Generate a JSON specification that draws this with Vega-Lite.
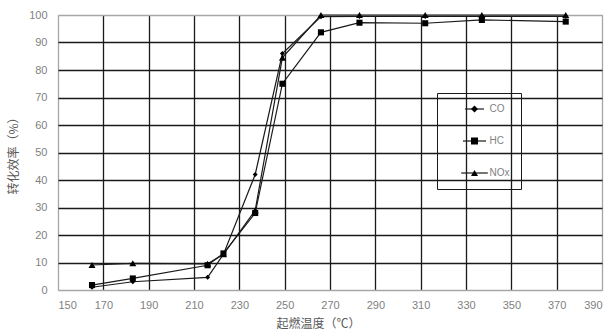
{
  "$schema": "https://vega.github.io/schema/vega-lite/v6.json",
  "width": 544,
  "height": 275,
  "autosize": "none",
  "padding": {"left": 58, "top": 15, "right": 10, "bottom": 46},
  "background": "white",
  "config": {
    "view": {"stroke": "#a6a6a6", "strokeWidth": 1},
    "font": "Liberation Sans",
    "axis": {
      "domain": false,
      "ticks": false,
      "labelColor": "#7f7f7f",
      "labelFontSize": 11,
      "labelFont": "Liberation Sans",
      "titleColor": "#595959",
      "titleFont": "Noto Sans CJK SC",
      "titleFontSize": 12,
      "titleFontWeight": "normal",
      "gridWidth": 1.3
    }
  },
  "data": {
    "values": [
      {"temp": 165, "series": "CO", "eff": 1},
      {"temp": 183, "series": "CO", "eff": 3},
      {"temp": 216, "series": "CO", "eff": 4.6},
      {"temp": 223, "series": "CO", "eff": 13},
      {"temp": 237, "series": "CO", "eff": 42},
      {"temp": 249, "series": "CO", "eff": 86},
      {"temp": 266, "series": "CO", "eff": 99.4},
      {"temp": 283, "series": "CO", "eff": 99.5},
      {"temp": 312, "series": "CO", "eff": 99.5},
      {"temp": 337, "series": "CO", "eff": 99.5},
      {"temp": 374, "series": "CO", "eff": 99.5},
      {"temp": 165, "series": "HC", "eff": 1.8},
      {"temp": 183, "series": "HC", "eff": 4.2},
      {"temp": 216, "series": "HC", "eff": 9},
      {"temp": 223, "series": "HC", "eff": 13.3},
      {"temp": 237, "series": "HC", "eff": 28},
      {"temp": 249, "series": "HC", "eff": 75},
      {"temp": 266, "series": "HC", "eff": 93.7},
      {"temp": 283, "series": "HC", "eff": 97.2},
      {"temp": 312, "series": "HC", "eff": 97},
      {"temp": 337, "series": "HC", "eff": 98.2},
      {"temp": 374, "series": "HC", "eff": 97.6},
      {"temp": 165, "series": "NOx", "eff": 9.1},
      {"temp": 183, "series": "NOx", "eff": 9.7},
      {"temp": 216, "series": "NOx", "eff": 9.5},
      {"temp": 223, "series": "NOx", "eff": 13},
      {"temp": 237, "series": "NOx", "eff": 29},
      {"temp": 249, "series": "NOx", "eff": 84.5},
      {"temp": 266, "series": "NOx", "eff": 100},
      {"temp": 283, "series": "NOx", "eff": 100},
      {"temp": 312, "series": "NOx", "eff": 100},
      {"temp": 337, "series": "NOx", "eff": 100},
      {"temp": 374, "series": "NOx", "eff": 100}
    ]
  },
  "encoding": {
    "x": {
      "field": "temp",
      "type": "quantitative",
      "scale": {"domain": [150, 390], "nice": false, "zero": false},
      "axis": {
        "values": [150, 170, 190, 210, 230, 250, 270, 290, 310, 330, 350, 370, 390],
        "title": "起燃温度（℃）",
        "labelPadding": 9,
        "titlePadding": 8,
        "titleX": 260,
        "gridColor": {"condition": {"test": "datum.value == 150 || datum.value == 390", "value": "#a6a6a6"}, "value": "#1a1a1a"}
      }
    },
    "y": {
      "field": "eff",
      "type": "quantitative",
      "scale": {"domain": [0, 100], "nice": false},
      "axis": {
        "values": [0, 10, 20, 30, 40, 50, 60, 70, 80, 90, 100],
        "title": "转化效率（%）",
        "labelPadding": 11,
        "titlePadding": 8,
        "gridColor": {"condition": {"test": "datum.value == 0 || datum.value == 100", "value": "#a6a6a6"}, "value": "#1a1a1a"}
      }
    }
  },
  "layer": [
    {
      "mark": {"type": "line", "strokeWidth": 1.2},
      "encoding": {
        "color": {
          "field": "series",
          "type": "nominal",
          "scale": {"domain": ["CO", "HC", "NOx"], "range": ["#1a1a1a", "#1a1a1a", "#1a1a1a"]},
          "legend": {
            "orient": "none",
            "legendX": 379,
            "legendY": 78,
            "title": null,
            "padding": 11,
            "strokeColor": "#1a1a1a",
            "symbolType": "M-3.8,0H3.8",
            "symbolSize": 49,
            "symbolStrokeColor": "#1a1a1a",
            "symbolStrokeWidth": 1.2,
            "symbolFillColor": "transparent",
            "symbolOffset": 21.5,
            "labelOffset": 10,
            "labelFontSize": 10,
            "labelOpacity": 0,
            "labelExpr": "datum.label + '\u00a0\u00a0\u00a0\u00a0\u00a0\u00a0\u00a0\u00a0\u00a0\u00a0'",
            "rowPadding": 22
          }
        }
      }
    },
    {
      "mark": {"type": "point", "filled": true, "opacity": 1, "color": "#000000"},
      "encoding": {
        "shape": {
          "field": "series",
          "type": "nominal",
          "scale": {"range": ["diamond", "square", "triangle-up"]},
          "legend": {
            "orient": "none",
            "legendX": 390,
            "legendY": 89,
            "title": null,
            "padding": 0,
            "symbolSize": 49,
            "symbolFillColor": "#000000",
            "symbolStrokeColor": "#000000",
            "symbolStrokeWidth": 0,
            "symbolOffset": 21.5,
            "labelOffset": 10,
            "labelFontSize": 10,
            "labelColor": "#7f7f7f",
            "labelFont": "Liberation Sans",
            "rowPadding": 22
          }
        },
        "size": {
          "field": "series",
          "type": "nominal",
          "scale": {"domain": ["CO", "HC", "NOx"], "range": [25, 49, 36]},
          "legend": null
        }
      }
    }
  ]
}
